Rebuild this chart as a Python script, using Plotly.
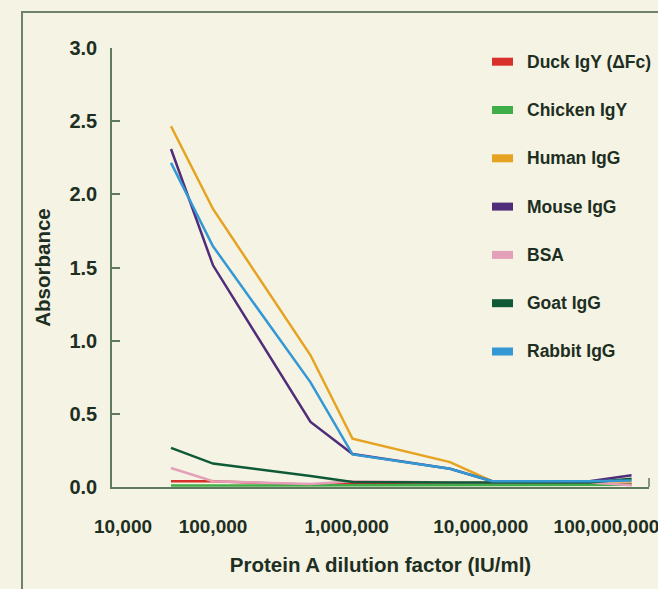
import plotly.graph_objects as go

# ---- data ----
dilution = [50000, 100000, 500000, 1000000, 5000000, 10000000, 50000000, 100000000]

series_names = ["Duck IgY (ΔFc)", "Chicken IgY", "Human IgG", "Mouse IgG",
                "BSA", "Goat IgG", "Rabbit IgG"]
duck_igy = [0.04, 0.04, 0.015, 0.02, 0.02, 0.02, 0.02, 0.02]
chicken_igy = [0.01, 0.01, 0.01, 0.01, 0.01, 0.01, 0.015, 0.015]
human_igg = [2.465, 1.90, 0.90, 0.33, 0.17, 0.04, 0.04, 0.04]
mouse_igg = [2.31, 1.515, 0.445, 0.225, 0.125, 0.04, 0.04, 0.08]
bsa = [0.13, 0.04, 0.02, 0.04, 0.03, 0.03, 0.03, 0.012]
goat_igg = [0.267, 0.16, 0.075, 0.035, 0.03, 0.03, 0.03, 0.057]
rabbit_igg = [2.215, 1.645, 0.715, 0.223, 0.125, 0.04, 0.04, 0.045]
series_values = [duck_igy, chicken_igy, human_igg, mouse_igg, bsa, goat_igg, rabbit_igg]

x_tick_labels = ["10,000", "100,000", "1,000,000", "10,000,000", "100,000,000"]
y_tick_values = [0, 0.5, 1.0, 1.5, 2.0, 2.5, 3.0]

# ---- style ----
colors = ["#d8302a", "#3fae49", "#e6a321", "#4f2d7a", "#e3a0b8", "#0f5a36", "#3398d3"]
BG = "#f5f3e3"
INK = "#1d2e22"
AXIS = "#5f7a5c"
FONT = "Liberation Sans, Arial, sans-serif"

# layout geometry (pixels)
W, H = 658, 589
L, R, T, B = 112, 9, 48, 102
PW, PH = W - L - R, H - T - B
# tick label positions as placed in the original figure (log10 units)
x_tick_pos_log = [4.355, 5.0, 5.958, 6.919, 7.82]

def px_x(px):
    return (px - L) / PW

def px_y(py):
    return (H - B - py) / PH

fig = go.Figure()
for name, vals, col in zip(series_names, series_values, colors):
    fig.add_trace(go.Scatter(x=dilution, y=vals, mode="lines", name=name,
                             line=dict(color=col, width=2.5), showlegend=False))

fig.update_layout(
    width=W, height=H,
    margin=dict(l=L, r=R, t=T, b=B, autoexpand=False),
    paper_bgcolor=BG, plot_bgcolor=BG,
    font=dict(family=FONT, color=INK, size=19, weight="bold"),
    xaxis=dict(
        type="log", range=[4.276, 8.125],
        showline=True, linecolor=AXIS, linewidth=1.5,
        showgrid=False, zeroline=False, ticks="",
        tickmode="array", tickvals=[10 ** v for v in x_tick_pos_log],
        ticktext=x_tick_labels, ticklabelstandoff=21, ticklabeloverflow="allow",
        tickfont=dict(size=19, family=FONT, color=INK, weight="bold"),
        title=dict(text="Protein A dilution factor (IU/ml)", standoff=22,
                   font=dict(size=20.5, family=FONT, color=INK, weight="bold")),
    ),
    yaxis=dict(
        range=[0, 3], showline=True, linecolor=AXIS, linewidth=1.5,
        showgrid=False, zeroline=False,
        ticks="inside", ticklen=8, tickwidth=1.5, tickcolor=AXIS,
        tickmode="array", tickvals=y_tick_values,
        ticktext=[f"{v:.1f}" for v in y_tick_values], ticklabelstandoff=9,
        tickfont=dict(size=20, family=FONT, color=INK, weight="bold"),
        title=dict(text="Absorbance", standoff=13,
                   font=dict(size=20.5, family=FONT, color=INK, weight="bold")),
    ),
)

shapes = []
annotations = []
# frame border of the original figure panel
shapes.append(dict(type="path", xref="paper", yref="paper",
                   path=f"M {px_x(22)} {px_y(600)} L {px_x(22)} {px_y(12)} L {px_x(700)} {px_y(12)}",
                   line=dict(color="#6f806d", width=2)))
# small end tick on x axis
shapes.append(dict(type="line", xref="paper", yref="paper", x0=1, x1=1,
                   y0=0, y1=9 / PH, line=dict(color=AXIS, width=1.5)))

# manual legend
row0, step = 61.7, 48.3
for i, (name, col) in enumerate(zip(series_names, colors)):
    yc = row0 + i * step
    shapes.append(dict(type="rect", xref="paper", yref="paper",
                       x0=px_x(492), x1=px_x(513), y0=px_y(yc + 4), y1=px_y(yc - 4),
                       fillcolor=col, line=dict(width=0)))
    annotations.append(dict(xref="paper", yref="paper", x=px_x(525), y=px_y(yc),
                            xanchor="left", yanchor="middle", text=name, showarrow=False,
                            font=dict(size=17.5, family=FONT, color=INK, weight="bold")))

fig.update_layout(shapes=shapes, annotations=annotations)
fig.write_html(
    "out.html",
    config={"displayModeBar": False},
    post_script="document.body.style.margin='0';document.body.style.background='#f5f3e3';"
                "document.body.style.overflow='hidden';",
)
